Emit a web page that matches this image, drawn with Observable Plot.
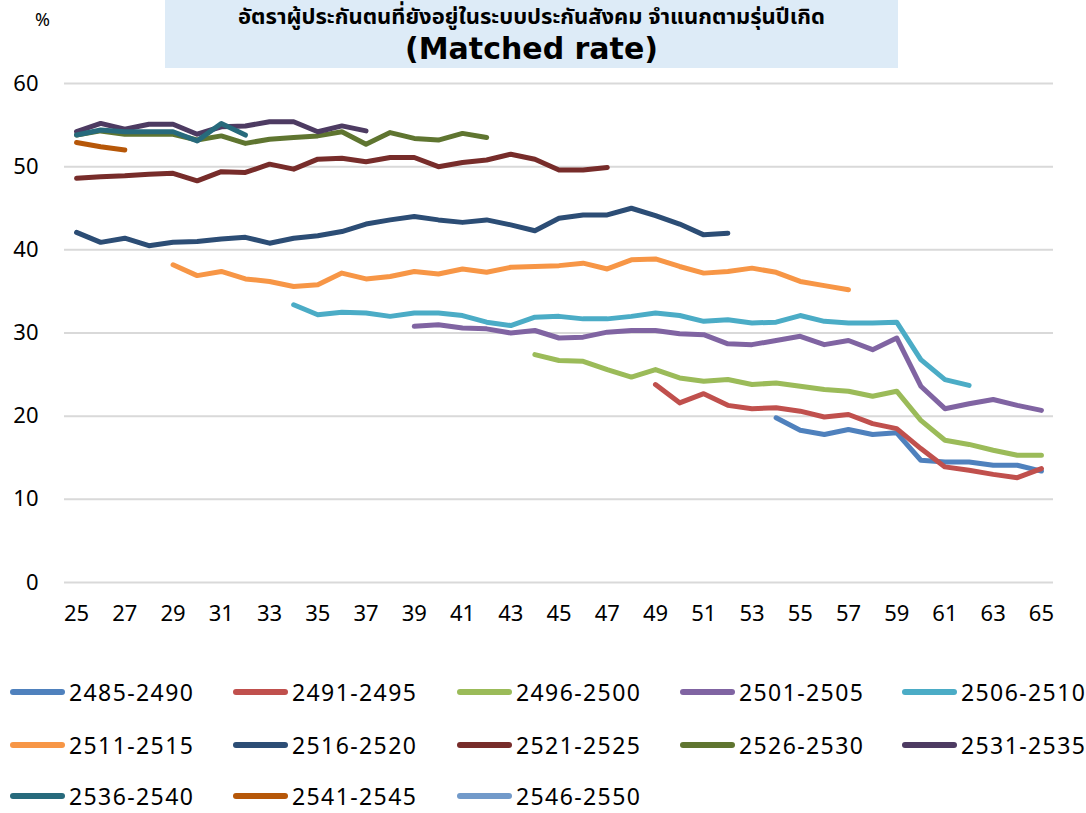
<!DOCTYPE html>
<html><head><meta charset="utf-8">
<script src="https://cdn.jsdelivr.net/npm/d3@7"></script>
<script src="https://cdn.jsdelivr.net/npm/@observablehq/plot@0.6"></script>
<style>
body{margin:0;background:#fff;font-family:"Noto Sans",sans-serif;}
#wrap{position:relative;width:1086px;height:813px;overflow:hidden;background:#fff;}
#chart{position:absolute;left:0;top:0;}
#title{position:absolute;left:165px;top:0;width:733px;height:68px;background:#ddebf7;text-align:center;font-weight:bold;color:#000;}
#t1{position:absolute;left:0;top:1px;width:733px;height:28px;line-height:28px;font-size:22px;white-space:nowrap;font-family:"Noto Sans","Noto Sans Thai",sans-serif;}
#t2{position:absolute;left:0;top:30px;width:733px;height:38px;line-height:38px;font-size:30px;white-space:nowrap;font-family:"DejaVu Sans",sans-serif;}
#unit{position:absolute;left:35px;top:7px;font-size:18px;color:#000;}
#legend{position:absolute;left:0;top:0;width:1086px;height:813px;pointer-events:none;}
.li{position:absolute;display:flex;align-items:center;font-size:23px;letter-spacing:1.4px;color:#000;white-space:nowrap;height:22px;line-height:22px;}
.sw{width:55px;height:6px;border-radius:3px;margin-right:4px;}
</style>
</head><body>
<div id="wrap">
<div id="chart"></div>
<div id="title"><div id="t1">อัตราผู้ประกันตนที่ยังอยู่ในระบบประกันสังคม จำแนกตามรุ่นปีเกิด</div><div id="t2">(Matched rate)</div></div>
<div id="unit">%</div>
<div id="legend"></div>
</div>
<script>
// Cohort names (Thai Buddhist-era birth years)
const cohorts = ["2485-2490","2491-2495","2496-2500","2501-2505","2506-2510","2511-2515","2516-2520","2521-2525","2526-2530","2531-2535","2536-2540","2541-2545","2546-2550"];
const colors = ["#4f81bd","#c0504d","#9bbb59","#8064a2","#4bacc6","#f79646","#2c4d75","#772c2a","#5f7530","#4d3b62","#276a7c","#b65708","#729aca"];
// First age of each cohort's series
const startAge = [54,49,44,39,34,29,25,25,25,25,25,25,null];
// Values (%) by consecutive age from startAge
const v2485 = [19.8,18.3,17.8,18.4,17.8,18.0,14.7,14.5,14.5,14.1,14.1,13.4];
const v2491 = [23.8,21.6,22.7,21.3,20.9,21.0,20.6,19.9,20.2,19.1,18.5,16.1,13.9,13.5,13.0,12.6,13.7];
const v2496 = [27.4,26.7,26.6,25.6,24.7,25.6,24.6,24.2,24.4,23.8,24.0,23.6,23.2,23.0,22.4,23.0,19.5,17.1,16.6,15.9,15.3,15.3];
const v2501 = [30.8,31.0,30.6,30.5,30.0,30.3,29.4,29.5,30.1,30.3,30.3,29.9,29.8,28.7,28.6,29.1,29.6,28.6,29.1,28.0,29.4,23.6,20.9,21.5,22.0,21.3,20.7];
const v2506 = [33.4,32.2,32.5,32.4,32.0,32.4,32.4,32.1,31.3,30.9,31.9,32.0,31.7,31.7,32.0,32.4,32.1,31.4,31.6,31.2,31.3,32.1,31.4,31.2,31.2,31.3,26.8,24.4,23.7];
const v2511 = [38.2,36.9,37.4,36.5,36.2,35.6,35.8,37.2,36.5,36.8,37.4,37.1,37.7,37.3,37.9,38.0,38.1,38.4,37.7,38.8,38.9,38.0,37.2,37.4,37.8,37.3,36.2,35.7,35.2];
const v2516 = [42.1,40.9,41.4,40.5,40.9,41.0,41.3,41.5,40.8,41.4,41.7,42.2,43.1,43.6,44.0,43.6,43.3,43.6,43.0,42.3,43.8,44.2,44.2,45.0,44.1,43.1,41.8,42.0];
const v2521 = [48.6,48.8,48.9,49.1,49.2,48.3,49.4,49.3,50.3,49.7,50.9,51.0,50.6,51.1,51.1,50.0,50.5,50.8,51.5,50.9,49.6,49.6,49.9];
const v2526 = [53.8,54.3,53.9,53.9,53.9,53.2,53.7,52.8,53.3,53.5,53.7,54.2,52.7,54.1,53.4,53.2,54.0,53.5];
const v2531 = [54.2,55.2,54.5,55.1,55.1,53.9,54.8,54.9,55.4,55.4,54.2,54.9,54.3];
const v2536 = [53.8,54.4,54.2,54.2,54.2,53.1,55.2,53.8];
const v2541 = [52.9,52.4,52.0];
const v2546 = [];
const seriesValues = [v2485,v2491,v2496,v2501,v2506,v2511,v2516,v2521,v2526,v2531,v2536,v2541,v2546];
const xTicks = [25,27,29,31,33,35,37,39,41,43,45,47,49,51,53,55,57,59,61,63,65];
const yTicks = [0,10,20,30,40,50,60];

const rows = [];
seriesValues.forEach((vals, s) => {
  vals.forEach((v, i) => rows.push({cohort: cohorts[s], age: startAge[s] + i, value: v}));
});

const chart = Plot.plot({
  width: 1086,
  height: 632,
  marginLeft: 64,
  marginRight: 33,
  marginTop: 83,
  marginBottom: 50,
  style: {fontFamily: "'Noto Sans', sans-serif", fontSize: "22px", color: "#000", background: "transparent"},
  x: {domain: [24.5, 65.5], label: null},
  y: {domain: [0, 60], label: null},
  color: {domain: cohorts, range: colors},
  marks: [
    Plot.gridY(yTicks, {stroke: "#d9d9d9", strokeOpacity: 1, strokeWidth: 2, x1: 24.5, x2: 65.5}),
    Plot.axisX({ticks: xTicks, tickSize: 0, tickPadding: 23, tickFormat: d => String(d), label: null, fontSize: 22}),
    Plot.axisY({ticks: yTicks, tickSize: 0, tickPadding: 26, label: null, fontSize: 22}),
    Plot.line(rows, {x: "age", y: "value", z: "cohort", stroke: "cohort", strokeWidth: 5, strokeLinejoin: "round", strokeLinecap: "round"})
  ]
});
document.getElementById("chart").appendChild(chart);

// Legend
const legend = document.getElementById("legend");
const colX = [10, 233, 457, 680, 902];
const rowY = [692, 745, 796];
cohorts.forEach((c, i) => {
  const d = document.createElement("div");
  d.className = "li";
  d.style.left = colX[i % 5] + "px";
  d.style.top = (rowY[Math.floor(i / 5)] - 11) + "px";
  const sw = document.createElement("span");
  sw.className = "sw";
  sw.style.background = colors[i];
  d.appendChild(sw);
  d.appendChild(document.createTextNode(c));
  legend.appendChild(d);
});
</script>
</body></html>
